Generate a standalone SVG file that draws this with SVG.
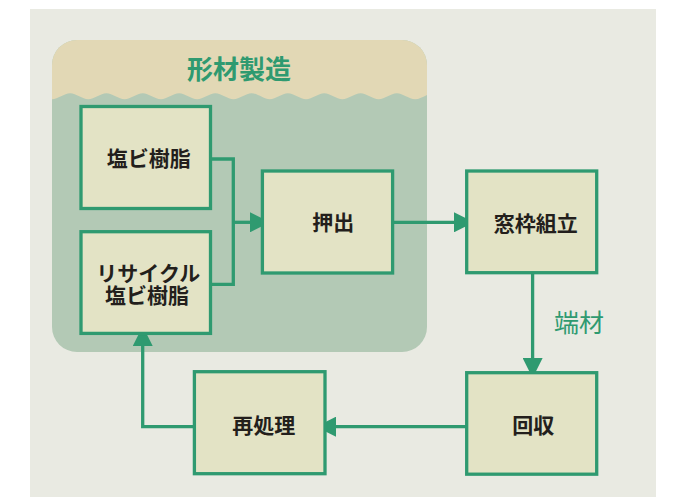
<svg xmlns="http://www.w3.org/2000/svg" width="678" height="497" viewBox="0 0 678 497">
<style>
.box{fill:#E3E3C5;stroke:#2F9A70;stroke-width:3.3}
.lbl{font-family:"Noto Sans CJK JP","Noto Sans",sans-serif;font-size:21px;font-weight:bold;fill:#231F1C;text-anchor:middle}
.conn{fill:none;stroke:#2F9A70;stroke-width:3.3;marker-end:url(#arr)}
</style>
<defs>
<marker id="arr" markerUnits="userSpaceOnUse" markerWidth="20" markerHeight="20" refX="0" refY="10" orient="auto" viewBox="0 0 20 20">
<path d="M0,0 L20,10 L0,20 Z" fill="#2F9A70"/>
</marker>
<clipPath id="cc"><rect x="52" y="40" width="375" height="312" rx="25" ry="25"/></clipPath>
</defs>
<rect x="30" y="9" width="626" height="488" fill="#E9EAE2"/>
<g id="container">
<rect x="52" y="40" width="375" height="312" rx="25" ry="25" fill="#B3C9B5"/>
<path clip-path="url(#cc)" fill="#E2D8B5" d="M40,99.3 H52 c6,0 12.15,-6 18.15,-6 c6,0 12.15,6 18.15,6 c6,0 12.15,-6 18.15,-6 c6,0 12.15,6 18.15,6 c6,0 12.15,-6 18.15,-6 c6,0 12.15,6 18.15,6 c6,0 12.15,-6 18.15,-6 c6,0 12.15,6 18.15,6 c6,0 12.15,-6 18.15,-6 c6,0 12.15,6 18.15,6 c6,0 12.15,-6 18.15,-6 c6,0 12.15,6 18.15,6 c6,0 12.15,-6 18.15,-6 c6,0 12.15,6 18.15,6 c6,0 12.15,-6 18.15,-6 c6,0 12.15,6 18.15,6 c6,0 12.15,-6 18.15,-6 c6,0 12.15,6 18.15,6 c6,0 12.15,-6 18.15,-6 c6,0 12.15,6 18.15,6 c6,0 12.15,-6 18.15,-6 c6,0 12.15,6 18.15,6 L450,30 L40,30 Z"/>
<text x="239" y="79" style="font-family:'Noto Sans CJK JP','Noto Sans',sans-serif;font-size:26px;font-weight:bold;fill:#2F9A70;text-anchor:middle">形材製造</text>
</g>
<g id="connectors">
<path class="conn" d="M212,159 H233.3 V284.3 H212"/>
<path class="conn" d="M233.3,222.3 H250"/>
<path class="conn" d="M394,222.3 H454"/>
<path class="conn" d="M532.6,274 V358"/>
<path class="conn" d="M466,426.7 H336"/>
<path class="conn" d="M194,426.7 H142.7 V346"/>
<text x="579" y="332" style="font-family:'Noto Sans CJK JP','Noto Sans',sans-serif;font-size:25px;fill:#2F9A70;text-anchor:middle">端材</text>
</g>
<g id="n-pvc">
<rect class="box" x="81" y="106.5" width="129.5" height="102"/>
<text class="lbl" x="148.8" y="166.3">塩ビ樹脂</text>
</g>
<g id="n-recycled">
<rect class="box" x="81" y="231.7" width="129.5" height="101.7"/>
<text class="lbl" x="148.3" y="281">リサイクル</text>
<text class="lbl" x="147" y="303">塩ビ樹脂</text>
</g>
<g id="n-extrude">
<rect class="box" x="262.4" y="171" width="130.2" height="102"/>
<text class="lbl" x="333.3" y="229.7">押出</text>
</g>
<g id="n-assembly">
<rect class="box" x="466.7" y="171" width="130" height="101.7"/>
<text class="lbl" x="535.7" y="231">窓枠組立</text>
</g>
<g id="n-collect">
<rect class="box" x="466.7" y="372.7" width="130" height="101.5"/>
<text class="lbl" x="533.3" y="433">回収</text>
</g>
<g id="n-reprocess">
<rect class="box" x="194.4" y="371.7" width="130.6" height="102"/>
<text class="lbl" x="263.7" y="433">再処理</text>
</g>
</svg>
